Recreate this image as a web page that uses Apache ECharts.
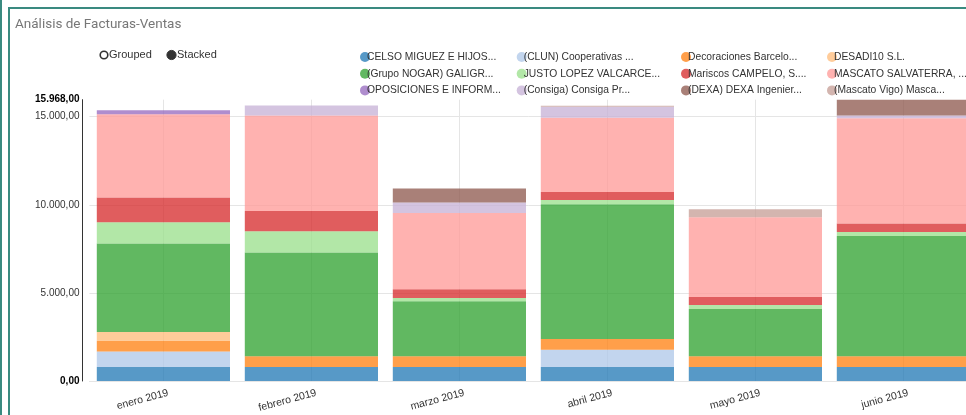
<!DOCTYPE html>
<html>
<head>
<meta charset="utf-8">
<script src="https://cdn.jsdelivr.net/npm/echarts@6/dist/echarts.min.js"></script>
<style>
html,body{margin:0;padding:0;background:#fff;}
#chart{width:966px;height:415px;}
</style>
</head>
<body>
<div id="chart"></div>
<script>
const categories = ['enero 2019','febrero 2019','marzo 2019','abril 2019','mayo 2019','junio 2019'];

const seriesNames = [
  'CELSO MIGUEZ E HIJOS...', '(CLUN) Cooperativas ...', 'Decoraciones Barcelo...', 'DESADI10 S.L.',
  '(Grupo NOGAR) GALIGR...', 'JUSTO LOPEZ VALCARCE...', 'Mariscos CAMPELO, S....', 'MASCATO SALVATERRA, ...',
  'OPOSICIONES E INFORM...', '(Consiga) Consiga Pr...', '(DEXA) DEXA Ingenier...', '(Mascato Vigo) Masca...'
];

const celso       = [800, 800, 800, 800, 800, 800];
const clun        = [870, 0, 0, 967, 0, 0];
const decoraciones= [610, 608, 608, 610, 608, 608];
const desadi      = [496, 0, 0, 0, 0, 0];
const nogar       = [5034, 5888, 3112, 7655, 2677, 6817];
const justo       = [1196, 1197, 194, 245, 228, 228];
const mariscos    = [1407, 1157, 490, 456, 456, 479];
const mascato     = [4732, 5415, 4332, 4201, 4522, 5985];
const oposiciones = [227, 0, 0, 0, 0, 0];
const consiga     = [0, 570, 593, 627, 0, 148];
const dexa        = [0, 0, 798, 0, 0, 903];
const mascatoVigo = [0, 0, 0, 60, 456, 0];

const yTicks = [0, 5000, 10000, 15000, 15968];
const yMax = 15968;

const seriesValues = [celso, clun, decoraciones, desadi, nogar, justo, mariscos, mascato, oposiciones, consiga, dexa, mascatoVigo];
const colors = ['#1f77b4','#aec7e8','#ff7f0e','#ffbb78','#2ca02c','#98df8a','#d62728','#ff9896','#9467bd','#c5b0d5','#8c564b','#c49c94'];

function fmt(v){
  const s = Math.round(v).toString().replace(/\B(?=(\d{3})+(?!\d))/g, '.');
  return s + ',00';
}

const chart = echarts.init(document.getElementById('chart'));

const series = seriesNames.map((n, i) => ({
  name: n,
  type: 'bar',
  stack: 'total',
  barCategoryGap: '10%',
  data: seriesValues[i],
  itemStyle: { color: colors[i], opacity: 0.75 },
  emphasis: { disabled: true }
}));

const legendCols = [355, 511.7, 676, 822];
const legends = legendCols.map((x, c) => ({
  orient: 'vertical',
  left: x,
  top: 45,
  itemWidth: 10,
  itemHeight: 10,
  itemGap: 2.7,
  icon: 'circle',
  selectedMode: false,
  textStyle: { fontFamily: 'Liberation Sans, Arial', fontSize: 10.3, color: '#333', lineHeight: 14, padding: [0, 0, 0, -8] },
  data: [seriesNames[c], seriesNames[c + 4], seriesNames[c + 8]]
}));

const option = {
  animation: false,
  color: colors,
  title: {
    text: 'Análisis de Facturas-Ventas',
    left: 15, top: 18, padding: 0,
    textStyle: { fontFamily: 'Roboto', fontSize: 13.5, fontWeight: 'normal', color: '#777' }
  },
  legend: legends,
  grid: { left: 89.4, top: 99.65, width: 888, height: 281.35, containLabel: false, outerBoundsMode: 'none' },
  xAxis: {
    type: 'category',
    data: categories,
    boundaryGap: true,
    axisLine: { show: true, lineStyle: { color: '#e5e5e5' } },
    axisTick: { show: false },
    splitLine: { show: true, alignWithLabel: true, lineStyle: { color: '#e5e5e5' } },
    axisLabel: { rotate: 15, margin: 13, padding: [0, -5, 0, 0], fontFamily: 'Liberation Sans, Arial', fontSize: 10.5, color: '#333', interval: 0 }
  },
  yAxis: {
    type: 'value',
    min: 0, max: yMax, interval: 5000,
    offset: 7.4,
    axisLine: { show: true, lineStyle: { color: '#333' } },
    axisTick: { show: false },
    splitLine: { show: true, lineStyle: { color: ['#e5e5e5','#e5e5e5','#e5e5e5','#e5e5e5','rgba(0,0,0,0)'] } },
    axisLabel: {
      margin: 2.5,
      fontFamily: 'Liberation Sans, Arial', fontSize: 10, color: '#333',
      showMaxLabel: true, showMinLabel: true,
      formatter: function(v){
        if (v === 0 || v === yMax) return '{b|' + fmt(v) + '}';
        return yTicks.indexOf(v) >= 0 ? fmt(v) : '';
      },
      rich: { b: { fontWeight: 'bold', fontFamily: 'Liberation Sans, Arial', fontSize: 10, color: '#000' } }
    }
  },
  graphic: [
    { type: 'rect', shape: { x: 0, y: 0, width: 2, height: 415 }, style: { fill: '#3a8a80' }, silent: true },
    { type: 'rect', shape: { x: 8, y: 7, width: 2, height: 408 }, style: { fill: '#3a8a80' }, silent: true },
    { type: 'rect', shape: { x: 8, y: 7, width: 958, height: 2 }, style: { fill: '#3a8a80' }, silent: true },
    { type: 'circle', shape: { cx: 104, cy: 55, r: 3.8 }, style: { fill: '#fff', stroke: '#333', lineWidth: 1.6 }, silent: true },
    { type: 'text', x: 109, y: 55, style: { text: 'Grouped', fontFamily: 'Liberation Sans, Arial', fontSize: 11, fill: '#333', verticalAlign: 'middle' }, silent: true },
    { type: 'circle', shape: { cx: 171.5, cy: 55, r: 4.6 }, style: { fill: '#333', stroke: '#333', lineWidth: 1 }, silent: true },
    { type: 'text', x: 177, y: 55, style: { text: 'Stacked', fontFamily: 'Liberation Sans, Arial', fontSize: 11, fill: '#333', verticalAlign: 'middle' }, silent: true }
  ],
  series: series
};
chart.setOption(option);
</script>
</body>
</html>
